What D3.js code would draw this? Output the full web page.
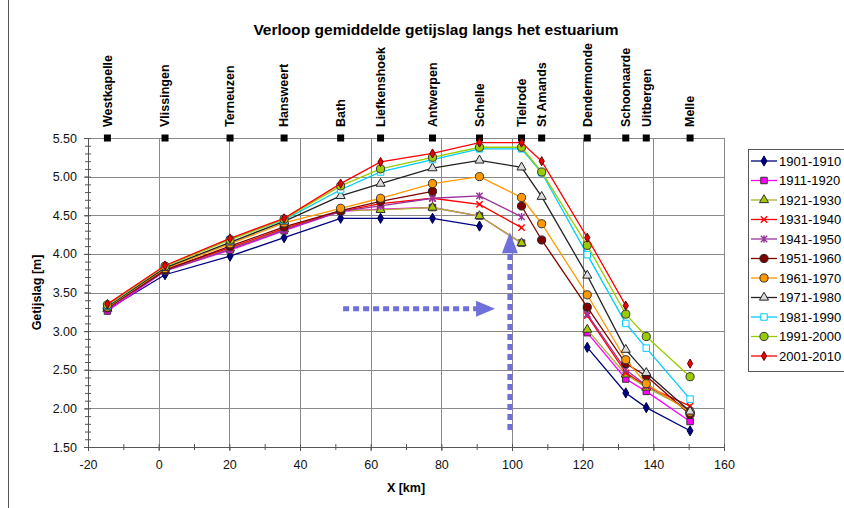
<!DOCTYPE html>
<html>
<head>
<meta charset="utf-8">
<script src="https://cdn.jsdelivr.net/npm/d3@7"></script>
<style>
  body { margin: 0; background: #fff; }
  text { font-family: "Liberation Sans", Arial, sans-serif; }
</style>
</head>
<body>
<svg id="chart" width="844" height="508"></svg>
<script>
// stations along the estuary and their position in km
var stations = ["Westkapelle", "Vlissingen", "Terneuzen", "Hansweert", "Bath", "Liefkenshoek", "Antwerpen",
                "Schelle", "Tielrode", "St Amands", "Dendermonde", "Schoonaarde", "Uitbergen", "Melle"];
var stationKm = [-14.5, 1.8, 20.2, 35.5, 51.5, 62.8, 77.5, 90.8, 102.7, 108.4, 121.3, 132.2, 138.0, 150.4];

var periods = ["1901-1910", "1911-1920", "1921-1930", "1931-1940", "1941-1950", "1951-1960",
               "1961-1970", "1971-1980", "1981-1990", "1991-2000", "2001-2010"];

// mean tidal range [m] per station (null = no data)
var tide1901 = [3.28, 3.73, 3.97, 4.21, 4.46, 4.46, 4.46, 4.36, null, null, 2.79, 2.20, 2.01, 1.71];
var tide1911 = [3.26, 3.78, 4.05, 4.30, 4.55, 4.58, 4.60, 4.49, 4.14, null, 2.98, 2.38, 2.22, 1.83];
var tide1921 = [3.29, 3.79, 4.07, 4.32, 4.56, 4.57, 4.60, 4.49, 4.14, null, 3.02, 2.44, 2.27, 1.98];
var tide1931 = [3.30, 3.80, 4.08, 4.33, 4.55, 4.65, 4.72, 4.64, 4.34, null, 3.20, 2.46, 2.29, 2.03];
var tide1941 = [3.29, 3.78, 4.06, 4.31, 4.55, 4.62, 4.72, 4.75, 4.48, null, 3.22, 2.50, 2.30, 1.97];
var tide1951 = [3.30, 3.79, 4.10, 4.35, 4.56, 4.68, 4.81, null, 4.62, 4.18, 3.31, 2.58, 2.42, 1.92];
var tide1961 = [3.31, 3.81, 4.13, 4.40, 4.59, 4.72, 4.91, 5.00, 4.73, 4.39, 3.47, 2.63, 2.32, 1.95];
var tide1971 = [3.32, 3.82, 4.15, 4.42, 4.75, 4.91, 5.11, 5.21, 5.12, 4.74, 3.72, 2.76, 2.46, 1.96];
var tide1981 = [3.33, 3.84, 4.19, 4.44, 4.83, 5.06, 5.22, 5.36, 5.36, 5.05, 3.99, 3.10, 2.78, 2.12];
var tide1991 = [3.34, 3.84, 4.18, 4.45, 4.88, 5.10, 5.25, 5.38, 5.38, 5.06, 4.11, 3.22, 2.93, 2.41];
var tide2001 = [3.35, 3.85, 4.20, 4.46, 4.91, 5.19, 5.30, 5.44, 5.44, 5.20, 4.21, 3.33, null, 2.58];

var xTicks = [-20, 0, 20, 40, 60, 80, 100, 120, 140, 160];
var yTicks = [1.5, 2.0, 2.5, 3.0, 3.5, 4.0, 4.5, 5.0, 5.5];

// annotation arrows: [x1, y1, x2(tip), y2(tip)] in data units
var arrowH = [52.2, 3.29, 95.2, 3.29];
var arrowV = [99.4, 1.72, 99.4, 4.28];

var allSeries = [tide1901, tide1911, tide1921, tide1931, tide1941, tide1951,
                 tide1961, tide1971, tide1981, tide1991, tide2001];

var styles = [
  { line: "#000080", fill: "#000080", stroke: "#000050", sym: "diamond", size: 30 },
  { line: "#ff00ff", fill: "#ff00ff", stroke: "#333", sym: "square", size: 42 },
  { line: "#a8b430", fill: "#a8c800", stroke: "#333", sym: "triangle", size: 36 },
  { line: "#ff0000", fill: "none", stroke: "#ff0000", sym: "x", size: 40 },
  { line: "#993399", fill: "none", stroke: "#993399", sym: "star", size: 40 },
  { line: "#800000", fill: "#800000", stroke: "#222", sym: "circle", size: 52 },
  { line: "#ff9900", fill: "#ff9900", stroke: "#333", sym: "circle", size: 52 },
  { line: "#222222", fill: "#ddd", stroke: "#222", sym: "triangle", size: 36 },
  { line: "#00ccff", fill: "#fff", stroke: "#00ccff", sym: "square", size: 42 },
  { line: "#99cc00", fill: "#99cc00", stroke: "#333", sym: "circle", size: 52 },
  { line: "#ff0000", fill: "#ee0000", stroke: "#600", sym: "diamond", size: 24 }
];

var svg = d3.select("#chart");
var margin = { top: 138, right: 120, bottom: 61, left: 88 };
var width = 844 - margin.left - margin.right;
var height = 508 - margin.top - margin.bottom;

var x = d3.scaleLinear().domain([-20, 160]).range([margin.left, margin.left + width]);
var y = d3.scaleLinear().domain([1.5, 5.5]).range([margin.top + height, margin.top]);

// outer frame (partly outside the picture)
svg.append("rect")
  .attr("x", 8.5).attr("y", -2).attr("width", 900).attr("height", 600)
  .attr("fill", "none").attr("stroke", "#555").attr("stroke-width", 1);

// title
svg.append("text")
  .attr("x", 436).attr("y", 35)
  .attr("text-anchor", "middle")
  .style("font-size", "15.5px").style("font-weight", "bold")
  .text("Verloop gemiddelde getijslag langs het estuarium");

// grid lines
var grid = svg.append("g").attr("stroke", "#8a8a8a").attr("stroke-width", 1);
yTicks.forEach(function(v) {
  grid.append("line")
    .attr("x1", x(-20)).attr("x2", x(160))
    .attr("y1", Math.round(y(v)) + 0.5).attr("y2", Math.round(y(v)) + 0.5);
});
xTicks.forEach(function(v) {
  grid.append("line")
    .attr("x1", Math.round(x(v)) + 0.5).attr("x2", Math.round(x(v)) + 0.5)
    .attr("y1", y(5.5)).attr("y2", y(1.5));
});

// axes
var yAxis = svg.append("g")
  .attr("transform", "translate(" + x(-20) + ",0)")
  .call(d3.axisLeft(y).tickValues(yTicks).tickSize(4).tickPadding(7).tickFormat(d3.format(".2f")));
var yMinor = svg.append("g")
  .attr("transform", "translate(" + x(-20) + ",0)")
  .call(d3.axisLeft(y).tickValues(d3.range(15, 56).map(function(d) { return d / 10; })).tickSize(3).tickFormat(""));
yMinor.selectAll("line").attr("x2", -3).attr("x1", 3);
yMinor.select(".domain").remove();

var xAxis = svg.append("g")
  .attr("transform", "translate(0," + y(1.5) + ")")
  .call(d3.axisBottom(x).tickValues(xTicks).tickSize(4).tickPadding(9).tickFormat(function(d) { return String(d); }));
var xMinor = svg.append("g")
  .attr("transform", "translate(0," + y(1.5) + ")")
  .call(d3.axisBottom(x).tickValues(d3.range(-20, 161, 10)).tickSize(3).tickFormat(""));
xMinor.selectAll("line").attr("y1", -3).attr("y2", 3);
xMinor.select(".domain").remove();

[yAxis, xAxis, yMinor, xMinor].forEach(function(a) {
  a.selectAll(".domain").attr("stroke", "#555");
  a.selectAll("line").attr("stroke", "#555");
  a.selectAll("text").style("font-size", "12.5px").attr("fill", "#111");
});

// axis labels
svg.append("text")
  .attr("x", x(70)).attr("y", 492)
  .attr("text-anchor", "middle")
  .style("font-size", "12.5px").style("font-weight", "bold")
  .text("X [km]");

svg.append("text")
  .attr("transform", "translate(41," + y(3.5) + ") rotate(-90)")
  .attr("text-anchor", "middle")
  .style("font-size", "12.5px").style("font-weight", "bold")
  .text("Getijslag [m]");

// station markers and names
svg.append("g").selectAll("rect")
  .data(stationKm)
  .enter().append("rect")
  .attr("x", function(d) { return x(d) - 3.5; })
  .attr("y", y(5.5) - 3.5)
  .attr("width", 7).attr("height", 7)
  .attr("fill", "#000");

svg.append("g").selectAll("text")
  .data(stations)
  .enter().append("text")
  .attr("transform", function(d, i) { return "translate(" + x(stationKm[i]) + ",127) rotate(-90)"; })
  .attr("dy", "0.35em")
  .style("font-size", "12.5px").style("font-weight", "bold")
  .text(function(d) { return d; });

// symbols
function symbolPath(sym, size) {
  var r = Math.sqrt(size) / 2;
  if (sym === "x") {
    return "M" + (-r) + "," + (-r) + "L" + r + "," + r + "M" + (-r) + "," + r + "L" + r + "," + (-r);
  }
  if (sym === "star") {
    return "M" + (-r) + "," + (-r) + "L" + r + "," + r + "M" + (-r) + "," + r + "L" + r + "," + (-r) +
           "M0," + (-r * 1.2) + "L0," + (r * 1.2);
  }
  var map = { diamond: d3.symbolDiamond, square: d3.symbolSquare, triangle: d3.symbolTriangle, circle: d3.symbolCircle };
  return d3.symbol().type(map[sym]).size(size)();
}

var line = d3.line()
  .defined(function(d) { return d.v !== null; })
  .x(function(d) { return x(d.km); })
  .y(function(d) { return y(d.v); });

allSeries.forEach(function(values, i) {
  var st = styles[i];
  var pts = values.map(function(v, j) { return { km: stationKm[j], v: v }; });
  var g = svg.append("g");
  g.append("path")
    .datum(pts)
    .attr("d", line)
    .attr("fill", "none")
    .attr("stroke", st.line)
    .attr("stroke-width", 1.3);
  g.selectAll("path.mk")
    .data(pts.filter(function(d) { return d.v !== null; }))
    .enter().append("path")
    .attr("class", "mk")
    .attr("transform", function(d) { return "translate(" + x(d.km) + "," + y(d.v) + ")"; })
    .attr("d", symbolPath(st.sym, st.size))
    .attr("fill", st.fill)
    .attr("stroke", st.stroke)
    .attr("stroke-width", (st.sym === "x" || st.sym === "star") ? 1.4 : 1);
});

// annotation arrows
var arrowColor = "#7070dd";
svg.append("line")
  .attr("x1", x(arrowH[0])).attr("y1", y(arrowH[1]))
  .attr("x2", x(arrowH[2]) - 18).attr("y2", y(arrowH[3]))
  .attr("stroke", arrowColor).attr("stroke-width", 5).attr("stroke-dasharray", "6,4");
svg.append("path")
  .attr("d", "M" + x(arrowH[2]) + "," + y(arrowH[3]) + "l-19,-8l0,16z")
  .attr("fill", arrowColor);
svg.append("line")
  .attr("x1", x(arrowV[0])).attr("y1", y(arrowV[1]))
  .attr("x2", x(arrowV[2])).attr("y2", y(arrowV[3]) + 20)
  .attr("stroke", arrowColor).attr("stroke-width", 5).attr("stroke-dasharray", "6,4");
svg.append("path")
  .attr("d", "M" + x(arrowV[2]) + "," + y(arrowV[3]) + "l-8,21l16,0z")
  .attr("fill", arrowColor);

// legend
var legend = svg.append("g");
legend.append("rect")
  .attr("x", 748.5).attr("y", 149.5).attr("width", 120).attr("height", 222)
  .attr("fill", "#fff").attr("stroke", "#555");
periods.forEach(function(p, i) {
  var st = styles[i];
  var ly = 161 + i * 19.5;
  legend.append("line")
    .attr("x1", 751).attr("x2", 777).attr("y1", ly).attr("y2", ly)
    .attr("stroke", st.line).attr("stroke-width", 1.3);
  legend.append("path")
    .attr("transform", "translate(764," + ly + ")")
    .attr("d", symbolPath(st.sym, st.size))
    .attr("fill", st.fill).attr("stroke", st.stroke)
    .attr("stroke-width", (st.sym === "x" || st.sym === "star") ? 1.4 : 1);
  legend.append("text")
    .attr("x", 779).attr("y", ly).attr("dy", "0.35em")
    .style("font-size", "13px")
    .text(p);
});
</script>
</body>
</html>
